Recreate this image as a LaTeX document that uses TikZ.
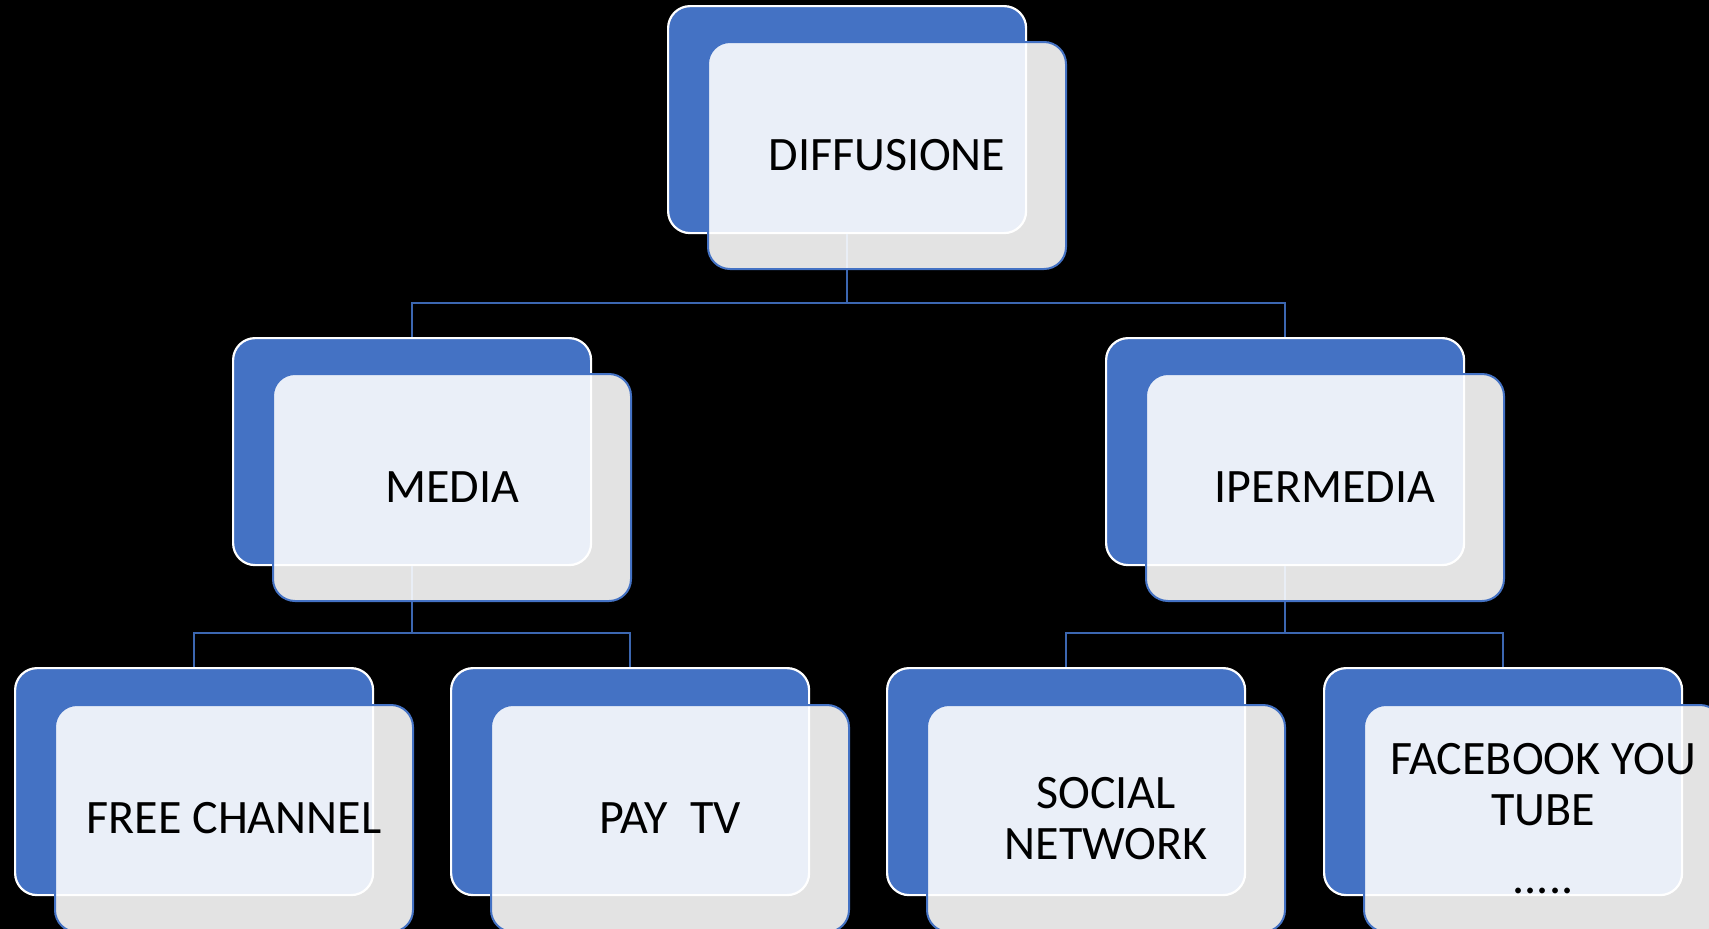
\documentclass[tikz,border=0pt]{standalone}
\usepackage{fontspec}
\setmainfont{Carlito}
\definecolor{accent}{HTML}{4472C4}
\definecolor{linkblue}{HTML}{3C67B1}
\begin{document}
\begin{tikzpicture}[x=1pt,y=-1pt,
  backbox/.style={draw=white, line width=2.2pt, fill=accent, rounded corners=22pt,
    minimum width=358pt, minimum height=227pt, inner sep=0pt, anchor=north west},
  frontbox/.style={draw=accent, line width=2pt, fill=white, fill opacity=0.89,
    text opacity=1, rounded corners=22pt, minimum width=358pt, minimum height=227pt,
    inner sep=0pt, anchor=north west, align=center, text=black,
    font=\fontsize{48}{51}\selectfont},
  link/.style={draw=linkblue, line width=2.7pt}]
  % canvas
  \fill[black] (0,0) rectangle (1709,929);
  \useasboundingbox (0,0) rectangle (1709,929);

  % back cards
  \node[backbox] (dif-b) at (667,5) {};
  \node[backbox] (med-b) at (232,337) {};
  \node[backbox] (ipm-b) at (1105,337) {};
  \node[backbox] (fre-b) at (14,667) {};
  \node[backbox] (pay-b) at (450,667) {};
  \node[backbox] (soc-b) at (886,667) {};
  \node[backbox] (fac-b) at (1323,667) {};

  % connectors of the tree
  \coordinate (bus1) at (0,303);
  \coordinate (bus2) at (0,633);
  \draw[link] (dif-b.south) -- (dif-b.south |- bus1) -| (med-b.north);
  \draw[link] (dif-b.south) -- (dif-b.south |- bus1) -| (ipm-b.north);
  \draw[link] (med-b.south) -- (med-b.south |- bus2) -| (fre-b.north);
  \draw[link] (med-b.south) -- (med-b.south |- bus2) -| (pay-b.north);
  \draw[link] (ipm-b.south) -- (ipm-b.south |- bus2) -| (soc-b.north);
  \draw[link] (ipm-b.south) -- (ipm-b.south |- bus2) -| (fac-b.north);

  % front cards with the labels
  \node[frontbox] (dif) at (707,41) {DIFFUSIONE};
  \node[frontbox] (med) at (272,373) {MEDIA};
  \node[frontbox] (ipm) at (1145,373) {IPERMEDIA};
  \node[frontbox] (fre) at (54,704) {FREE CHANNEL};
  \node[frontbox] (pay) at (490,704) {PAY\ \ TV};
  \node[frontbox] (soc) at (926,704) {SOCIAL\\NETWORK};
  \node[frontbox] (fac) at (1363,704) {FACEBOOK YOU\\TUBE\\[17pt].....};
\end{tikzpicture}
\end{document}
